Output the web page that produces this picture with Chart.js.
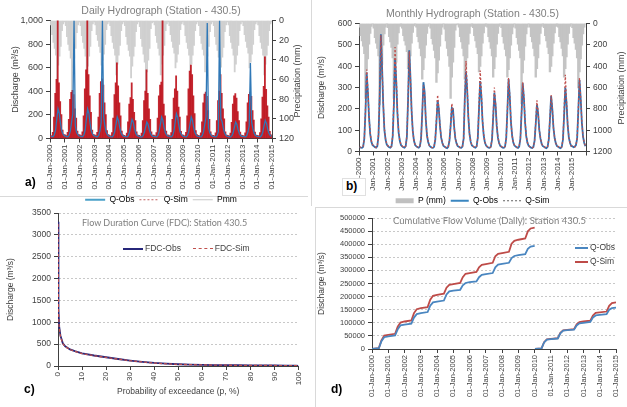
<!DOCTYPE html>
<html lang="en">
<head>
<meta charset="UTF-8">
<title>Hydrographs - Station 430.5</title>
<script src="https://cdn.jsdelivr.net/npm/chart.js@4.4.0/dist/chart.umd.min.js"></script>
<style>
  body { margin: 0; background: #fff; }
  #page { position: relative; width: 627px; height: 407px; overflow: hidden; font-family: 'Liberation Sans', Arial, sans-serif; }
  canvas { position: absolute; }
  .tag { position: absolute; font-weight: bold; font-size: 12px; color: #000; }
  .sep { position: absolute; background: #d9d9d9; }
  .rtitle { position: absolute; font-size: 9px; color: #404040; white-space: nowrap; transform: rotate(-90deg); transform-origin: center; }
  .otitle { position: absolute; font-family: Lato, 'Open Sans', sans-serif; font-size: 9px; color: #7f7f7f; white-space: nowrap; }
  .leg { position: absolute; font-size: 8.5px; color: #404040; white-space: nowrap; line-height: 10px; }
  .leg i { display: inline-block; width: 20px; vertical-align: middle; margin-right: 2px; }
</style>
</head>
<body>
<div id="page">
  <div class="sep" style="left:0;top:196px;width:308px;height:1px"></div>
  <div class="sep" style="left:311px;top:0;width:1px;height:206px"></div>
  <div class="sep" style="left:315px;top:207px;width:312px;height:1px"></div>
  <div class="sep" style="left:315px;top:207px;width:1px;height:200px"></div>

  <canvas id="chartA" width="310" height="215" style="left:0;top:0"></canvas>
  <canvas id="chartB" width="314" height="216" style="left:313px;top:0"></canvas>
  <canvas id="chartC" width="310" height="211" style="left:0;top:196px"></canvas>
  <canvas id="chartD" width="312" height="200" style="left:315px;top:207px"></canvas>

  <div class="rtitle" style="left:257px;top:76px;width:80px;text-align:center">Precipitation (mm)</div>
  <div class="rtitle" style="left:581px;top:83px;width:80px;text-align:center">Precipitation (mm)</div>

  <div class="otitle" style="left:82px;top:217px">Flow Duration Curve (FDC): Station 430.5</div>
  <div class="leg" style="left:123px;top:243px"><i style="border-top:2px solid #27277a"></i>FDC-Obs&nbsp;&nbsp;&nbsp;&nbsp;&nbsp;<i style="border-top:1.5px dashed #c0504d"></i>FDC-Sim</div>

  <div class="otitle" style="left:393px;top:215px;font-size:9.5px">Cumulative Flow Volume (Daily): Station 430.5</div>
  <div class="leg" style="left:575px;top:242px"><i style="width:13px;border-top:2px solid #4a86c0"></i>Q-Obs</div>
  <div class="leg" style="left:575px;top:256px"><i style="width:13px;border-top:2px solid #be4b48"></i>Q-Sim</div>

  <div class="tag" style="left:25px;top:175px">a)</div>
  <div class="tag" style="left:342px;top:178px;border:1px solid #e0e0e0;padding:0 8px 2px 3px;background:#fff">b)</div>
  <div class="tag" style="left:24px;top:382px">c)</div>
  <div class="tag" style="left:331px;top:382px">d)</div>
</div>
<script>
// ---- a) daily hydrograph, one value per month, Jan-2000 .. Dec-2014 ----
const dailyObs = [
  20, 16, 16, 30, 70, 165, 252, 215, 130, 65, 38, 24,     // 2000
  20, 16, 15, 28, 65, 140, 210, 1000, 110, 55, 34, 22,    // 2001
  20, 16, 16, 30, 72, 165, 252, 215, 130, 65, 38, 24,     // 2002
  20, 16, 15, 28, 65, 140, 1000, 180, 110, 55, 34, 22,    // 2003
  18, 15, 14, 26, 60, 120, 182, 155, 95, 50, 30, 20,      // 2004
  18, 15, 14, 25, 55, 108, 162, 138, 85, 45, 28, 20,      // 2005
  18, 14, 14, 24, 50, 95, 140, 120, 75, 42, 26, 18,       // 2006
  18, 15, 14, 26, 60, 120, 182, 155, 95, 50, 30, 20,      // 2007
  20, 16, 15, 28, 65, 140, 210, 180, 110, 55, 34, 22,     // 2008
  18, 15, 14, 26, 60, 120, 182, 155, 95, 50, 30, 20,      // 2009
  18, 15, 14, 26, 60, 120, 182, 980, 95, 50, 30, 20,      // 2010
  18, 15, 14, 26, 58, 1000, 168, 145, 90, 48, 29, 20,     // 2011
  18, 14, 14, 24, 50, 95, 140, 120, 75, 42, 26, 18,       // 2012
  18, 15, 14, 25, 55, 108, 640, 138, 85, 45, 28, 20,      // 2013
  18, 15, 14, 25, 52, 104, 154, 130, 80, 44, 27, 18       // 2014
];
const dailySim = [
  25, 20, 50, 180, 380, 500, 1000, 470, 310, 200, 70, 30, // 2000
  28, 22, 50, 160, 330, 390, 406, 370, 250, 170, 60, 30,  // 2001
  28, 22, 55, 190, 420, 580, 1000, 540, 360, 220, 70, 32, // 2002
  28, 22, 50, 180, 380, 480, 504, 450, 300, 200, 65, 30,  // 2003
  26, 20, 48, 170, 370, 470, 640, 445, 300, 190, 60, 28,  // 2004
  24, 18, 44, 140, 290, 345, 470, 330, 220, 150, 55, 26,  // 2005
  24, 18, 44, 150, 320, 400, 580, 380, 250, 160, 55, 26,  // 2006
  26, 20, 48, 170, 360, 450, 476, 1000, 290, 190, 60, 28, // 2007
  26, 20, 48, 160, 340, 420, 530, 400, 265, 180, 58, 28,  // 2008
  26, 20, 50, 190, 420, 570, 620, 540, 360, 210, 65, 30,  // 2009
  25, 20, 46, 140, 300, 375, 392, 355, 235, 160, 55, 27,  // 2010
  25, 20, 46, 150, 320, 400, 540, 380, 250, 165, 55, 27,  // 2011
  24, 18, 44, 135, 290, 360, 378, 340, 225, 150, 52, 26,  // 2012
  24, 18, 45, 140, 300, 372, 392, 355, 235, 155, 52, 26,  // 2013
  25, 20, 48, 165, 350, 440, 690, 415, 275, 180, 58, 28   // 2014
];
const dailyP = [
  4, 14, 22, 28, 35, 62, 45, 36, 26, 10, 3, 1,   // 2000
  5, 16, 24, 30, 38, 78, 48, 38, 28, 12, 4, 1,   // 2001
  5, 15, 22, 28, 36, 70, 46, 36, 26, 10, 3, 1,   // 2002
  4, 14, 20, 26, 32, 45, 40, 34, 24, 9, 3, 1,    // 2003
  5, 15, 22, 28, 35, 55, 44, 35, 25, 10, 3, 1,   // 2004
  5, 16, 24, 30, 36, 58, 46, 36, 26, 11, 3, 1,   // 2005
  6, 18, 26, 34, 42, 75, 52, 40, 28, 8, 2, 1,    // 2006
  4, 15, 22, 28, 35, 55, 44, 35, 25, 10, 3, 1,   // 2007
  5, 14, 21, 27, 33, 48, 42, 34, 24, 9, 3, 1,    // 2008
  4, 15, 22, 28, 35, 52, 44, 35, 25, 10, 3, 1,   // 2009
  5, 15, 23, 29, 35, 52, 45, 36, 26, 11, 3, 1,   // 2010
  5, 16, 24, 30, 37, 80, 47, 37, 27, 11, 4, 1,   // 2011
  4, 15, 22, 28, 35, 52, 44, 35, 25, 10, 3, 1,   // 2012
  5, 14, 21, 27, 33, 48, 42, 34, 24, 9, 3, 1,    // 2013
  4, 15, 22, 28, 35, 55, 44, 35, 25, 10, 3, 1    // 2014
];

// ---- b) monthly hydrograph, Jan-2000 .. Dec-2015 ----
const monthlyObs = [
  20, 18, 17, 22, 60, 190, 370, 280, 160, 80, 45, 30,
  25, 20, 18, 25, 75, 260, 550, 400, 220, 100, 55, 32,
  25, 20, 18, 24, 70, 220, 435, 330, 180, 90, 50, 30,
  24, 20, 18, 25, 70, 240, 475, 350, 190, 95, 50, 30,
  24, 20, 18, 24, 60, 180, 325, 280, 150, 75, 45, 28,
  22, 18, 17, 22, 55, 140, 240, 200, 120, 65, 40, 26,
  22, 18, 16, 22, 50, 120, 205, 200, 115, 60, 38, 25,
  22, 18, 17, 23, 60, 250, 375, 290, 160, 80, 45, 28,
  24, 20, 18, 24, 65, 200, 330, 260, 140, 75, 42, 28,
  22, 18, 17, 22, 55, 160, 275, 220, 120, 65, 40, 26,
  22, 18, 17, 23, 60, 190, 340, 260, 140, 75, 42, 28,
  23, 19, 17, 23, 60, 180, 320, 250, 135, 70, 40, 27,
  22, 18, 16, 21, 50, 130, 220, 180, 100, 60, 36, 25,
  22, 18, 16, 22, 55, 150, 260, 200, 110, 62, 38, 25,
  22, 18, 16, 22, 55, 170, 300, 230, 125, 65, 40, 26,
  24, 20, 22, 30, 60, 190, 335, 250, 135, 70, 40, 25
];
const monthlySim = [
  22, 20, 18, 24, 65, 200, 385, 290, 160, 85, 48, 32,
  27, 22, 20, 26, 80, 270, 545, 410, 225, 105, 58, 34,
  27, 22, 19, 25, 75, 240, 490, 350, 190, 95, 52, 32,
  26, 21, 19, 26, 72, 245, 470, 345, 190, 95, 50, 31,
  25, 21, 19, 25, 62, 185, 310, 270, 150, 78, 46, 29,
  23, 19, 18, 23, 58, 150, 265, 205, 120, 66, 40, 27,
  23, 19, 17, 23, 52, 125, 225, 195, 115, 62, 38, 26,
  23, 19, 18, 24, 62, 255, 425, 300, 165, 82, 46, 29,
  25, 21, 19, 25, 68, 215, 380, 275, 145, 78, 44, 29,
  23, 19, 18, 23, 58, 170, 300, 225, 122, 66, 40, 27,
  23, 19, 18, 24, 62, 195, 345, 265, 142, 76, 43, 29,
  24, 20, 18, 24, 62, 185, 325, 255, 138, 72, 41, 28,
  23, 19, 17, 22, 52, 140, 240, 185, 102, 62, 37, 26,
  23, 19, 17, 23, 56, 155, 265, 205, 112, 64, 39, 26,
  23, 19, 17, 23, 58, 190, 360, 240, 128, 67, 41, 27,
  25, 21, 22, 30, 62, 195, 345, 255, 138, 72, 42, 26
];
const monthlyP = [
  30, 110, 160, 210, 280, 700, 440, 330, 190, 90, 25, 0,
  40, 130, 180, 230, 300, 760, 520, 380, 200, 95, 30, 0,
  35, 120, 170, 220, 320, 700, 550, 360, 190, 85, 25, 0,
  40, 110, 160, 200, 260, 420, 400, 300, 180, 80, 20, 0,
  30, 120, 170, 230, 300, 520, 430, 320, 200, 90, 25, 0,
  40, 140, 190, 250, 320, 550, 460, 340, 210, 100, 30, 0,
  50, 160, 230, 300, 400, 700, 500, 360, 220, 60, 10, 0,
  30, 120, 170, 230, 300, 520, 430, 320, 190, 90, 25, 0,
  35, 110, 160, 220, 280, 450, 400, 300, 180, 85, 25, 0,
  30, 120, 170, 230, 300, 500, 420, 310, 190, 90, 25, 0,
  35, 120, 180, 240, 300, 500, 430, 320, 200, 95, 30, 0,
  40, 130, 190, 250, 320, 750, 460, 340, 210, 95, 30, 0,
  30, 120, 170, 230, 300, 500, 420, 320, 190, 90, 25, 0,
  35, 110, 160, 220, 280, 450, 400, 300, 180, 85, 25, 0,
  30, 120, 170, 230, 300, 500, 420, 310, 190, 90, 25, 0,
  35, 130, 180, 240, 320, 600, 450, 330, 200, 95, 30, 0
];

// ---- c) flow duration curve ----
const pExc   = [0, 0.2, 0.5, 1, 2, 3, 5, 7, 10, 15, 20, 25, 30, 35, 40, 45, 50, 55, 60, 65, 70, 75, 80, 85, 90, 95, 99, 100];
const fdcObs = [3300, 1300, 900, 700, 520, 450, 380, 340, 290, 240, 200, 160, 125, 95, 70, 52, 40, 32, 26, 22, 19, 17, 15, 13, 12, 10, 8, 3];
const fdcSim = [3250, 1250, 880, 680, 510, 445, 375, 335, 285, 235, 195, 158, 122, 93, 68, 50, 38, 30, 25, 21, 18, 16, 14, 12, 11, 9, 7, 3];

// ---- d) cumulative volume (decimal years), null splits the two records ----
const cumDates = [
  2000.0, 2000.42, 2000.58, 2000.75,
  2001.0, 2001.42, 2001.58, 2001.75,
  2002.0, 2002.42, 2002.58, 2002.75,
  2003.0, 2003.42, 2003.58, 2003.75,
  2004.0, 2004.42, 2004.58, 2004.75,
  2005.0, 2005.42, 2005.58, 2005.75,
  2006.0, 2006.42, 2006.58, 2006.75,
  2007.0, 2007.42, 2007.58, 2007.75,
  2008.0, 2008.42, 2008.58, 2008.75,
  2009.0, 2009.42, 2009.58, 2009.75,
  2010.0, 2010.01,
  2010.02, 2010.42, 2010.58, 2010.75,
  2011.0, 2011.42, 2011.58, 2011.75,
  2012.0, 2012.42, 2012.58, 2012.75,
  2013.0, 2013.42, 2013.58, 2013.75,
  2014.0, 2014.42, 2014.58, 2014.75,
  2015.0
];
const cumObs = [
  0, 3000, 30000, 45000,
  48000, 52000, 75000, 90000,
  93000, 97000, 120000, 133000,
  137000, 141000, 165000, 178000,
  181000, 185000, 208000, 220000,
  223000, 226000, 243000, 252000,
  255000, 258000, 274000, 283000,
  286000, 290000, 312000, 322000,
  325000, 329000, 347000, 355000,
  358000, 362000, 382000, 391000,
  394000, null,
  0, 2000, 25000, 36000,
  38000, 40000, 60000, 70000,
  72000, 74000, 90000, 98000,
  100000, 103000, 120000, 128000,
  130000, 133000, 150000, 156000,
  158000
];
const cumSim = [
  0, 3500, 33000, 51000,
  54000, 58000, 85000, 101000,
  105000, 109000, 137000, 152000,
  156000, 160000, 188000, 203000,
  207000, 211000, 234000, 245000,
  248000, 252000, 274000, 287000,
  290000, 294000, 312000, 321000,
  324000, 329000, 354000, 363000,
  366000, 371000, 402000, 413000,
  417000, 422000, 449000, 460000,
  463000, null,
  0, 2000, 26000, 37000,
  39000, 41000, 62000, 71000,
  73000, 76000, 94000, 103000,
  105000, 108000, 128000, 138000,
  140000, 143000, 165000, 175000,
  178000
];

Chart.defaults.font.family = "'Liberation Sans', Arial, sans-serif";
Chart.defaults.color = '#404040';
Chart.defaults.animation = false;
const AXIS = '#404040';

// month i of a series starting in startYear, placed mid-month
function monthPts(vals, startYear) {
  return vals.map((v, i) => ({ x: startYear + (i + 0.5) / 12, y: v }));
}
function pairPts(xs, ys) {
  return xs.map((x, i) => ({ x: x, y: ys[i] }));
}
function tickGrid() {
  return { display: true, drawOnChartArea: false, drawTicks: true, tickLength: 4, tickColor: AXIS, offset: false };
}
function dotGrid() {
  return { display: true, drawOnChartArea: true, color: '#c8c8c8', drawTicks: true, tickLength: 4, tickColor: AXIS };
}
function lineLegend(items) {
  return items.map((it, i) => ({
    text: it[0], strokeStyle: it[1], fillStyle: it[1], lineWidth: it[2], lineDash: it[3],
    pointStyle: 'line', hidden: false, datasetIndex: i
  }));
}
const plain = v => String(v);

// a) Daily hydrograph
new Chart(document.getElementById('chartA'), {
  type: 'bar',
  data: {
    datasets: [
      { type: 'line', label: 'Q-Obs', data: monthPts(dailyObs, 2000), borderColor: '#2f78b7', borderWidth: 1.3, pointRadius: 0, yAxisID: 'y', order: 1 },
      { type: 'bar', label: 'Q-Sim', data: monthPts(dailySim, 2000), backgroundColor: 'rgba(188,16,26,0.9)', barPercentage: 1, categoryPercentage: 1, inflateAmount: 0.6, yAxisID: 'y', order: 2 },
      { type: 'bar', label: 'Pmm', data: monthPts(dailyP, 2000), backgroundColor: '#d0d0d0', barPercentage: 1, categoryPercentage: 1, inflateAmount: 0.6, yAxisID: 'y1', order: 3 }
    ]
  },
  options: {
    responsive: false,
    layout: { padding: { top: 2, bottom: 1, left: 0, right: 0 } },
    plugins: {
      tooltip: { enabled: false },
      title: { display: true, fullSize: false, text: 'Daily Hydrograph (Station - 430.5)', color: '#7f7f7f', font: { size: 10.5, weight: 'normal' }, padding: { top: 3, bottom: 3 } },
      legend: {
        position: 'bottom', fullSize: false,
        labels: {
          usePointStyle: true, pointStyleWidth: 20, boxHeight: 8, padding: 5, font: { size: 8.5 }, color: '#404040',
          generateLabels: () => lineLegend([['Q-Obs', '#4aa0c8', 2, []], ['Q-Sim', '#c06060', 1, [2, 2]], ['Pmm', '#c8c8c8', 1, []]])
        }
      }
    },
    scales: {
      x: {
        type: 'linear', min: 2000, max: 2015, offset: false,
        grid: tickGrid(), border: { display: true, color: AXIS },
        ticks: { stepSize: 1, autoSkip: false, maxRotation: 90, minRotation: 90, padding: 2, font: { size: 8 }, callback: v => '01-Jan-' + v },
        afterFit: s => { s.height = 52; }
      },
      y: {
        position: 'left', min: 0, max: 1000,
        grid: tickGrid(), border: { display: true, color: AXIS },
        ticks: { stepSize: 100, padding: 3, font: { size: 9 }, callback: v => v.toLocaleString('en-US') },
        title: { display: true, text: 'Discharge (m³/s)', font: { size: 9 }, padding: { top: 10, bottom: 2 } },
        afterFit: s => { s.width = 50; }
      },
      y1: {
        position: 'right', reverse: true, min: 0, max: 120,
        grid: tickGrid(), border: { display: true, color: AXIS },
        ticks: { stepSize: 20, padding: 3, font: { size: 9 }, callback: plain },
        afterFit: s => { s.width = 38; }
      }
    }
  }
});

// b) Monthly hydrograph
new Chart(document.getElementById('chartB'), {
  type: 'bar',
  data: {
    datasets: [
      { type: 'line', label: 'Q-Sim', data: monthPts(monthlySim, 2000), borderColor: '#c0504d', borderWidth: 1.3, borderDash: [2, 2], pointRadius: 0, yAxisID: 'y', order: 1 },
      { type: 'line', label: 'Q-Obs', data: monthPts(monthlyObs, 2000), borderColor: '#2f6fae', borderWidth: 1.8, pointRadius: 0, yAxisID: 'y', order: 2 },
      { type: 'bar', label: 'P (mm)', data: monthPts(monthlyP, 2000), backgroundColor: '#c4c4c4', barPercentage: 1, categoryPercentage: 1, inflateAmount: 0.6, yAxisID: 'y1', order: 3 }
    ]
  },
  options: {
    responsive: false,
    layout: { padding: { top: 2, bottom: 1, left: 0, right: 0 } },
    plugins: {
      tooltip: { enabled: false },
      title: { display: true, fullSize: false, text: 'Monthly Hydrograph (Station - 430.5)', color: '#7f7f7f', font: { size: 10.5, weight: 'normal' }, padding: { top: 6, bottom: 3 } },
      legend: {
        position: 'bottom', fullSize: false,
        labels: {
          usePointStyle: true, pointStyleWidth: 18, boxHeight: 8, padding: 5, font: { size: 8.5 }, color: '#404040',
          generateLabels: () => lineLegend([['P (mm)', '#c0c0c0', 5, []], ['Q-Obs', '#3a86c0', 2, []], ['Q-Sim', '#606060', 1, [2, 2]]])
        }
      }
    },
    scales: {
      x: {
        type: 'linear', min: 2000, max: 2016, offset: false,
        grid: tickGrid(), border: { display: true, color: AXIS },
        ticks: { stepSize: 1, autoSkip: false, maxRotation: 90, minRotation: 90, padding: 2, font: { size: 8 }, callback: v => (v < 2016 ? 'Jan-' + v : '') },
        afterFit: s => { s.height = 40; }
      },
      y: {
        position: 'left', min: 0, max: 600,
        grid: tickGrid(), border: { display: true, color: AXIS },
        ticks: { stepSize: 100, padding: 3, font: { size: 8.5 }, callback: plain },
        title: { display: true, text: 'Discharge (m³/s)', font: { size: 8.5 }, padding: { top: 4, bottom: 2 } },
        afterFit: s => { s.width = 46; }
      },
      y1: {
        position: 'right', reverse: true, min: 0, max: 1200,
        grid: tickGrid(), border: { display: true, color: AXIS },
        ticks: { stepSize: 200, padding: 3, font: { size: 8.5 }, callback: plain },
        afterFit: s => { s.width = 41; }
      }
    }
  }
});

// c) Flow duration curve
new Chart(document.getElementById('chartC'), {
  type: 'line',
  data: {
    datasets: [
      { label: 'FDC-Sim', data: pairPts(pExc, fdcSim), borderColor: '#c0504d', borderWidth: 1.3, borderDash: [3, 2], pointRadius: 0, order: 1 },
      { label: 'FDC-Obs', data: pairPts(pExc, fdcObs), borderColor: '#27277a', borderWidth: 1.8, pointRadius: 0, order: 2 }
    ]
  },
  options: {
    responsive: false,
    layout: { padding: { top: 17, bottom: 10, left: 0, right: 7 } },
    plugins: { tooltip: { enabled: false }, legend: { display: false } },
    scales: {
      x: {
        type: 'linear', min: 0, max: 100,
        grid: tickGrid(), border: { display: true, color: AXIS },
        ticks: { stepSize: 10, autoSkip: false, maxRotation: 90, minRotation: 90, padding: 2, font: { size: 8 }, callback: plain },
        title: { display: true, text: 'Probability of exceedance (p, %)', font: { size: 8.5 }, padding: { top: 1, bottom: 0 } },
        afterFit: s => { s.height = 31; }
      },
      y: {
        min: 0, max: 3500,
        grid: dotGrid(), border: { display: true, color: AXIS, dash: [2, 2] },
        ticks: { stepSize: 500, padding: 3, font: { size: 8.5 }, callback: plain },
        title: { display: true, text: 'Discharge (m³/s)', font: { size: 8.5 }, padding: { top: 6, bottom: 2 } },
        afterFit: s => { s.width = 58; }
      }
    }
  }
});

// d) Cumulative flow volume
new Chart(document.getElementById('chartD'), {
  type: 'line',
  data: {
    datasets: [
      { label: 'Q-Obs', data: pairPts(cumDates, cumObs), borderColor: '#4a86c0', borderWidth: 1.8, pointRadius: 0, spanGaps: false },
      { label: 'Q-Sim', data: pairPts(cumDates, cumSim), borderColor: '#be4b48', borderWidth: 1.8, pointRadius: 0, spanGaps: false }
    ]
  },
  options: {
    responsive: false,
    layout: { padding: { top: 11, bottom: 10, left: 0, right: 7 } },
    plugins: { tooltip: { enabled: false }, legend: { display: false } },
    scales: {
      x: {
        type: 'linear', min: 2000, max: 2015,
        grid: tickGrid(), border: { display: true, color: AXIS },
        ticks: { stepSize: 1, autoSkip: false, maxRotation: 90, minRotation: 90, padding: 2, font: { size: 7.5 }, callback: v => '01-Jan-' + v },
        afterFit: s => { s.height = 48; }
      },
      y: {
        min: 0, max: 500000,
        grid: dotGrid(), border: { display: true, color: AXIS, dash: [2, 2] },
        ticks: { stepSize: 50000, padding: 3, font: { size: 7.5 }, callback: plain },
        title: { display: true, text: 'Discharge (m³/s)', font: { size: 8.5 }, padding: { top: 2, bottom: 2 } },
        afterFit: s => { s.width = 57; }
      }
    }
  }
});
</script>
</body>
</html>
